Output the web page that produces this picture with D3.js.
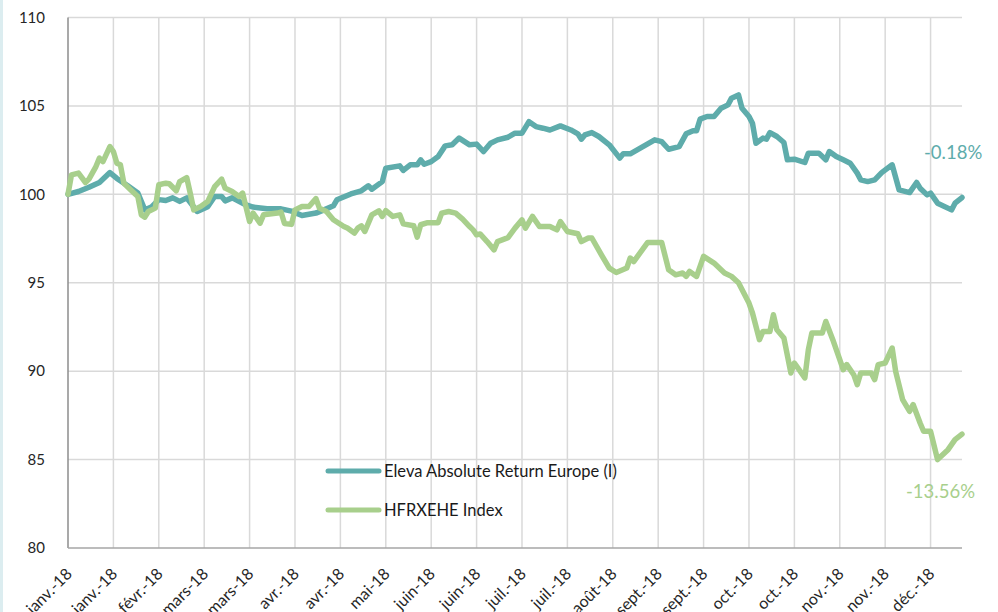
<!DOCTYPE html>
<html>
<head>
<meta charset="utf-8">
<script src="https://cdn.jsdelivr.net/npm/d3@7"></script>
<style>
  body { margin: 0; background: #fff; }
  text { font-family: Lato, "Open Sans", sans-serif; }
</style>
</head>
<body>
<div id="chart"></div>
<script>
var width = 998;
var height = 612;

// tick labels, one every 13 trading days
var tickLabels = ["janv.-18", "janv.-18", "févr.-18", "mars-18", "mars-18", "avr.-18", "avr.-18",
  "mai-18", "juin-18", "juin-18", "juil.-18", "juil.-18", "août-18", "sept.-18", "sept.-18",
  "oct.-18", "oct.-18", "nov.-18", "nov.-18", "déc.-18"];
var tickStep = 13;
var lastDay = 256;

var yTicks = [80, 85, 90, 95, 100, 105, 110];

// Eleva Absolute Return Europe (I)
var elevaDays = [0, 3, 6, 9, 12, 14, 17, 20, 22, 24, 26, 28, 30, 32, 34, 37, 40, 42, 44, 45, 47, 48,
  51, 53, 57, 61, 64, 67, 71, 74, 76, 77, 81, 84, 86, 87, 90, 91, 95, 96, 98, 100, 101, 102, 104,
  106, 108, 110, 112, 115, 117, 119, 121, 123, 126, 128, 130, 132, 134, 136, 138, 141, 144, 146,
  147, 148, 150, 152, 155, 158, 159, 161, 163, 166, 168, 170, 172, 175, 177, 179, 180, 181, 183,
  185, 187, 189, 190, 192, 193, 195, 196, 197, 199, 200, 201, 203, 205, 206, 208, 211, 212, 215,
  217, 218, 220, 222, 224, 226, 227, 229, 231, 233, 236, 238, 241, 243, 244, 246, 247, 249, 253,
  254, 256];
var elevaValues = [100.0, 100.16, 100.4, 100.67, 101.23, 100.9, 100.5, 100.07, 99.12, 99.3, 99.7,
  99.65, 99.8, 99.6, 99.8, 99.03, 99.3, 99.88, 99.88, 99.63, 99.8, 99.7, 99.4, 99.28, 99.18,
  99.18, 99.05, 98.8, 98.94, 99.18, 99.35, 99.69, 100.02, 100.2, 100.48, 100.29, 100.72, 101.48,
  101.61, 101.35, 101.67, 101.67, 101.95, 101.7, 101.85, 102.14, 102.74, 102.8, 103.18, 102.8,
  102.84, 102.42, 102.89, 103.08, 103.23, 103.46, 103.46, 104.11, 103.83, 103.74, 103.64, 103.87,
  103.64, 103.42, 103.12, 103.36, 103.49, 103.27, 102.8, 102.05, 102.29, 102.29, 102.51, 102.85,
  103.08, 102.98, 102.55, 102.7, 103.42, 103.6, 103.6, 104.25, 104.4, 104.4, 104.87, 105.06,
  105.44, 105.62, 104.87, 104.4, 104.02, 102.89, 103.18, 103.12, 103.49, 103.27, 102.93, 101.95,
  101.99, 101.8, 102.33, 102.33, 101.95, 102.42, 102.14, 101.95, 101.76, 101.2, 100.82, 100.72,
  100.82, 101.23, 101.67, 100.25, 100.1, 100.67, 100.35, 99.97, 100.07, 99.5, 99.12, 99.5, 99.82];

// HFRXEHE Index
var hfrxDays = [0, 1, 3, 5, 6, 8, 9, 10, 12, 13, 14, 15, 16, 18, 20, 21, 22, 23, 25, 26, 28, 29,
  31, 32, 34, 35, 36, 38, 40, 42, 44, 45, 47, 49, 50, 52, 53, 55, 56, 60, 61, 62, 64, 65, 67, 69,
  71, 72, 74, 76, 79, 80, 82, 83, 84, 85, 87, 89, 90, 91, 93, 95, 96, 99, 100, 101, 103, 106, 107,
  109, 111, 113, 115, 116, 117, 118, 120, 122, 123, 126, 128, 130, 131, 133, 135, 138, 140, 141,
  143, 146, 147, 149, 150, 153, 155, 157, 160, 161, 162, 166, 170, 172, 174, 176, 177, 178, 180,
  182, 185, 188, 190, 192, 195, 196, 198, 199, 201, 202, 203, 205, 207, 208, 211, 212, 213, 216,
  217, 219, 221, 222, 223, 225, 226, 227, 230, 231, 232, 234, 236, 237, 239, 241, 242, 244, 245,
  247, 249, 252, 254, 256];
var hfrxValues = [100.0, 101.1, 101.2, 100.67, 100.86, 101.57, 102.05, 101.85, 102.7, 102.42,
  101.76, 101.67, 100.63, 100.25, 99.88, 98.84, 98.71, 99.03, 99.22, 100.54, 100.63, 100.6, 100.2,
  100.72, 100.95, 100.07, 99.12, 99.31, 99.59, 100.44, 100.86, 100.35, 100.16, 99.88, 100.07,
  98.46, 98.94, 98.37, 98.84, 98.94, 99.0, 98.35, 98.3, 99.12, 99.31, 99.31, 99.76, 99.22, 99.03,
  98.56, 98.18, 98.09, 97.81, 98.09, 98.22, 97.9, 98.84, 99.07, 98.75, 99.08, 98.75, 98.84, 98.33,
  98.22, 97.58, 98.28, 98.4, 98.4, 98.94, 99.03, 98.94, 98.6, 98.18, 97.99, 97.71, 97.76, 97.33,
  96.86, 97.33, 97.55, 98.09, 98.56, 98.09, 98.75, 98.18, 98.18, 97.99, 98.46, 97.9, 97.77, 97.33,
  97.53, 97.53, 96.49, 95.83, 95.58, 95.83, 96.4, 96.2, 97.28, 97.28, 95.73, 95.45, 95.55, 95.36,
  95.64, 95.36, 96.49, 96.11, 95.55, 95.36, 95.0, 93.85, 93.29, 91.78, 92.25, 92.25, 93.19, 92.34,
  91.88, 89.9, 90.46, 89.62, 91.21, 92.16, 92.16, 92.81, 91.78, 90.65, 90.08, 90.37, 89.8, 89.24,
  89.9, 89.9, 89.52, 90.37, 90.46, 91.31, 89.99, 88.39, 87.73, 88.11, 87.07, 86.6, 86.6, 85.0,
  85.56, 86.13, 86.44];

var seriesNames = ["Eleva Absolute Return Europe (I)", "HFRXEHE Index"];
var seriesColors = ["#5eacab", "#a8cf8c"];
var endLabels = ["-0.18%", "-13.56%"];

var svg = d3.select("#chart").append("svg")
  .attr("width", width)
  .attr("height", height);

svg.append("rect")
  .attr("x", 0).attr("y", 0)
  .attr("width", 3).attr("height", height)
  .attr("fill", "#dcedf0");

var x = d3.scaleLinear().domain([0, lastDay]).range([68, 962]);
var y = d3.scaleLinear().domain([80, 110]).range([548, 17.5]);

var tickDays = tickLabels.map(function(d, i) { return i * tickStep; });

// grid ----------------------------------------------------------
var grid = svg.append("g");
grid.selectAll("line.h")
  .data(yTicks.slice(1))
  .enter().append("line")
    .attr("x1", 68).attr("x2", 962)
    .attr("y1", function(d) { return y(d); })
    .attr("y2", function(d) { return y(d); })
    .attr("stroke", "#d9d9d9")
    .attr("stroke-width", 1.5);
grid.selectAll("line.v")
  .data(tickDays.slice(1))
  .enter().append("line")
    .attr("x1", function(d) { return x(d); })
    .attr("x2", function(d) { return x(d); })
    .attr("y1", y(110)).attr("y2", y(80))
    .attr("stroke", "#d9d9d9")
    .attr("stroke-width", 1.5);

// axes ----------------------------------------------------------
svg.append("line")
  .attr("x1", 68).attr("x2", 68)
  .attr("y1", y(110)).attr("y2", y(80))
  .attr("stroke", "#8c8c8c").attr("stroke-width", 1.5);
svg.append("line")
  .attr("x1", 68).attr("x2", 962)
  .attr("y1", y(80)).attr("y2", y(80))
  .attr("stroke", "#a6a6a6").attr("stroke-width", 1.5);

svg.selectAll("text.ylab")
  .data(yTicks)
  .enter().append("text")
    .attr("class", "ylab")
    .attr("x", 45)
    .attr("y", function(d) { return y(d); })
    .attr("dy", "0.35em")
    .attr("text-anchor", "end")
    .attr("font-size", 15)
    .attr("fill", "#262626")
    .text(function(d) { return d; });

svg.selectAll("text.xlab")
  .data(tickLabels)
  .enter().append("text")
    .attr("class", "xlab")
    .attr("transform", function(d, i) {
      return "translate(" + (x(tickDays[i]) + 5) + "," + 575 + ") rotate(-45)";
    })
    .attr("text-anchor", "end")
    .attr("font-size", 16)
    .attr("fill", "#262626")
    .text(function(d) { return d; });

// lines ---------------------------------------------------------
var line = d3.line()
  .x(function(d) { return x(d[0]); })
  .y(function(d) { return y(d[1]); });

var series = [
  d3.zip(elevaDays, elevaValues),
  d3.zip(hfrxDays, hfrxValues)
];

svg.selectAll("path.series")
  .data(series)
  .enter().append("path")
    .attr("class", "series")
    .attr("d", line)
    .attr("fill", "none")
    .attr("stroke", function(d, i) { return seriesColors[i]; })
    .attr("stroke-width", 5.5)
    .attr("stroke-linejoin", "round")
    .attr("stroke-linecap", "round");

// end labels
svg.append("text")
  .attr("x", 924).attr("y", 153).attr("dy", "0.35em")
  .attr("font-size", 18.5).attr("fill", seriesColors[0])
  .text(endLabels[0]);
svg.append("text")
  .attr("x", 906).attr("y", 492).attr("dy", "0.35em")
  .attr("font-size", 18.5).attr("fill", seriesColors[1])
  .text(endLabels[1]);

// legend --------------------------------------------------------
var legend = svg.selectAll("g.legend")
  .data(seriesNames)
  .enter().append("g")
    .attr("class", "legend")
    .attr("transform", function(d, i) { return "translate(0," + (471 + i * 39) + ")"; });
legend.append("line")
  .attr("x1", 328).attr("x2", 379)
  .attr("y1", 0).attr("y2", 0)
  .attr("stroke", function(d, i) { return seriesColors[i]; })
  .attr("stroke-width", 5)
  .attr("stroke-linecap", "round");
legend.append("text")
  .attr("x", 384).attr("y", 0).attr("dy", "0.35em")
  .attr("font-size", 16.5)
  .attr("fill", "#1a1a1a")
  .text(function(d) { return d; });
</script>
</body>
</html>
